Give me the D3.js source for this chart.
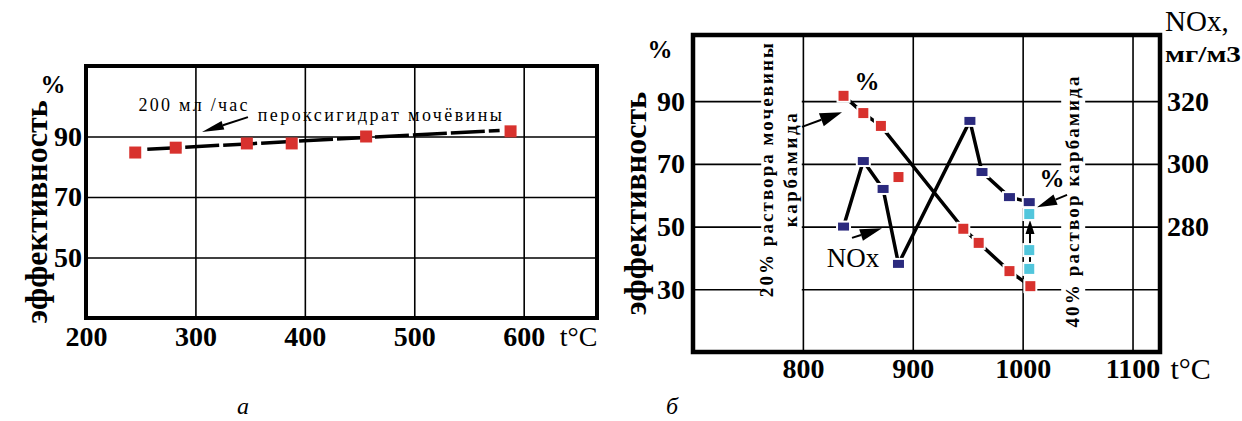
<!DOCTYPE html>
<html>
<head>
<meta charset="utf-8">
<script src="https://cdn.jsdelivr.net/npm/d3@7"></script>
<style>
  body { margin: 0; background: #fff; }
  svg { display: block; font-family: "Liberation Serif", "DejaVu Serif", serif; }
  .tick text { font-family: "Liberation Serif", serif; font-weight: bold; }
</style>
</head>
<body>
<svg width="1242" height="421"></svg>
<script>
// ---- chart a : efficiency vs temperature ----
const tempA = [245, 282, 347, 388, 456, 588]
const effA = [84.7, 86.3, 87.7, 87.7, 90, 91.7]
const trendTempA = [256, 578]
const trendEffA = [85.8, 92]
const xTicksA = [200, 300, 400, 500, 600]
const yTicksA = [50, 70, 90]

// ---- chart b : efficiency and NOx vs temperature ----
const tempRed = [837, 855, 871, 946, 960, 988, 1007]
const effRed = [91.7, 86.2, 82.1, 49.3, 44.8, 35.8, 31]
const tempRedLoose = [887]
const effRedLoose = [65.8]
const tempNox = [837, 855, 873, 887, 952, 963, 988, 1006]
const noxValues = [280, 300.9, 292, 268.1, 313.7, 297.4, 289.4, 287.8]
const tempCyan = [1006, 1006, 1006]
const effCyan = [54, 42.5, 36.5]
const xTicksB = [800, 900, 1000, 1100]
const yTicksB = [30, 50, 70, 90]
const noxTicks = [280, 300, 320]

const RED = "#d8322e"
const NAVY = "#2b2a7e"
const CYAN = "#52c6dc"

const svg = d3.select("svg")

const arrow = (g, x1, y1, x2, y2, len, wid) => {
  const a = Math.atan2(y2 - y1, x2 - x1)
  const bx = x2 - len * Math.cos(a)
  const by = y2 - len * Math.sin(a)
  const nx = -Math.sin(a) * wid / 2
  const ny = Math.cos(a) * wid / 2
  g.append("line")
    .attr("x1", x1).attr("y1", y1).attr("x2", bx).attr("y2", by)
    .attr("stroke", "#000").attr("stroke-width", 2)
  g.append("path")
    .attr("d", `M${x2},${y2}L${bx + nx},${by + ny}L${bx - nx},${by - ny}Z`)
    .attr("fill", "#000")
}

const styleAxis = (axisG, size) => {
  axisG.attr("font-family", null).attr("font-size", null)
  axisG.select(".domain").remove()
  axisG.selectAll(".tick line").attr("stroke", "#000").attr("stroke-width", 1.6)
  axisG.selectAll(".tick text")
    .attr("fill", "#000")
    .style("font-size", size + "px")
}

// ================= chart a =================
{
  const left = 86, top = 66, right = 597, bottom = 318
  const x = d3.scaleLinear().domain([200, 667]).range([left, right])
  const y = d3.scaleLinear().domain([30, 113.3]).range([bottom, top])
  const g = svg.append("g")

  const xAxisG = g.append("g")
    .attr("transform", `translate(0,${bottom})`)
    .call(d3.axisBottom(x).tickValues(xTicksA).tickFormat(d3.format("d")).tickSize(-(bottom - top)).tickPadding(8))
  styleAxis(xAxisG, 28)
  const yAxisG = g.append("g")
    .attr("transform", `translate(${left},0)`)
    .call(d3.axisLeft(y).tickValues(yTicksA).tickFormat(d3.format("d")).tickSize(-(right - left)).tickPadding(4))
  styleAxis(yAxisG, 28)

  g.append("rect")
    .attr("x", left).attr("y", top)
    .attr("width", right - left).attr("height", bottom - top)
    .attr("fill", "none").attr("stroke", "#000").attr("stroke-width", 4)

  // trend line
  g.append("line")
    .attr("x1", x(trendTempA[0])).attr("y1", y(trendEffA[0]))
    .attr("x2", x(trendTempA[1])).attr("y2", y(trendEffA[1]))
    .attr("stroke", "#000").attr("stroke-width", 3.5)
    .attr("stroke-dasharray", "34 4")

  g.selectAll(".pt")
    .data(tempA.map((t, i) => [t, effA[i]]))
    .join("rect")
    .attr("x", (d) => x(d[0]) - 6).attr("y", (d) => y(d[1]) - 6)
    .attr("width", 12).attr("height", 12)
    .attr("fill", RED)

  // annotation
  g.append("text")
    .attr("x", x(248)).attr("y", y(98.3))
    .attr("textLength", 109).attr("lengthAdjust", "spacing")
    .style("font-size", "18px")
    .text("200 мл /час")
  g.append("text")
    .attr("x", x(357)).attr("y", y(95.1))
    .attr("textLength", 244).attr("lengthAdjust", "spacing")
    .style("font-size", "18px")
    .text("пероксигидрат мочёвины")
  arrow(g, x(348), y(96.4), x(306), y(91.5), 22, 9)

  // labels
  g.append("text")
    .attr("x", 53).attr("y", 93).attr("text-anchor", "middle")
    .style("font-size", "25px").style("font-weight", "bold")
    .text("%")
  g.append("text")
    .attr("x", x(600) + 36).attr("y", bottom + 28)
    .style("font-size", "28px")
    .text("t°C")
  g.append("text")
    .attr("transform", `translate(47,${(top + bottom) / 2 + 20}) rotate(-90)`)
    .attr("text-anchor", "middle")
    .style("font-size", "32px").style("font-weight", "bold")
    .text("эффективность")
  g.append("text")
    .attr("x", 243).attr("y", 414).attr("text-anchor", "middle")
    .style("font-size", "24px").style("font-style", "italic")
    .text("а")
}

// ================= chart b =================
{
  const left = 693, top = 35, right = 1160, bottom = 352
  const x = d3.scaleLinear().domain([700, 1125]).range([left, right])
  const y = d3.scaleLinear().domain([10, 111.1]).range([bottom, top])
  const yNox = d3.scaleLinear().domain([240, 341.1]).range([bottom, top])
  const g = svg.append("g")

  const xAxisG = g.append("g")
    .attr("transform", `translate(0,${bottom})`)
    .call(d3.axisBottom(x).tickValues(xTicksB).tickFormat(d3.format("d")).tickSize(-(bottom - top)).tickPadding(6))
  styleAxis(xAxisG, 28)
  const yAxisG = g.append("g")
    .attr("transform", `translate(${left},0)`)
    .call(d3.axisLeft(y).tickValues(yTicksB).tickFormat(d3.format("d")).tickSize(-(right - left)).tickPadding(8))
  styleAxis(yAxisG, 28)
  const yRightG = g.append("g")
    .attr("transform", `translate(${right},0)`)
    .call(d3.axisRight(yNox).tickValues(noxTicks).tickFormat(d3.format("d")).tickSize(0).tickPadding(7))
  styleAxis(yRightG, 28)

  // white backing behind rotated captions (they break the grid)
  g.append("rect")
    .attr("x", x(773) - 12).attr("y", top + 6)
    .attr("width", x(799) - x(773) + 12).attr("height", 258)
    .attr("fill", "#fff")
  g.append("rect")
    .attr("x", x(1046) - 12).attr("y", y(57.8) - 128)
    .attr("width", 24).attr("height", 256)
    .attr("fill", "#fff")

  g.append("rect")
    .attr("x", left).attr("y", top)
    .attr("width", right - left).attr("height", bottom - top)
    .attr("fill", "none").attr("stroke", "#000").attr("stroke-width", 4.5)

  const line = d3.line().x((d) => x(d[0])).y((d) => d[1])
  const redPts = tempRed.map((t, i) => [t, y(effRed[i])])
  const noxPts = tempNox.map((t, i) => [t, yNox(noxValues[i])])
  g.append("path").attr("d", line(redPts))
    .attr("fill", "none").attr("stroke", "#000").attr("stroke-width", 3.5)
  g.append("path").attr("d", line(noxPts))
    .attr("fill", "none").attr("stroke", "#000").attr("stroke-width", 3.5)

  // up arrow between cyan points
  arrow(g, x(1006.7), y(38.7), x(1006.7), y(52.1), 14, 9)

  const squares = (pts, color, w, h) => {
    g.append("g").selectAll("rect")
      .data(pts)
      .join("rect")
      .attr("x", (d) => x(d[0]) - w / 2).attr("y", (d) => d[1] - h / 2)
      .attr("width", w).attr("height", h)
      .attr("fill", color).attr("stroke", "#fff").attr("stroke-width", 2)
  }
  squares(redPts, RED, 12, 12)
  squares(tempRedLoose.map((t, i) => [t, y(effRedLoose[i])]), RED, 12, 12)
  squares(noxPts, NAVY, 13, 10)
  squares(tempCyan.map((t, i) => [t, y(effCyan[i])]), CYAN, 12, 12)

  // annotations
  g.append("text")
    .attr("transform", `translate(${x(773)},${y(68)}) rotate(-90)`)
    .attr("text-anchor", "middle")
    .attr("textLength", 254).attr("lengthAdjust", "spacing")
    .style("font-size", "19px").style("font-weight", "bold")
    .text("20% раствора мочевины")
  g.append("text")
    .attr("transform", `translate(${x(795)},${y(68)}) rotate(-90)`)
    .attr("text-anchor", "middle")
    .attr("textLength", 114).attr("lengthAdjust", "spacing")
    .style("font-size", "19px").style("font-weight", "bold")
    .text("карбамида")
  arrow(g, x(799.2), y(81.8), x(835.6), y(86.5), 22, 14)

  g.append("text")
    .attr("transform", `translate(${x(1051)},${y(57.8)}) rotate(-90)`)
    .attr("text-anchor", "middle")
    .attr("textLength", 251).attr("lengthAdjust", "spacing")
    .style("font-size", "19px").style("font-weight", "bold")
    .text("40% раствор карбамида")
  arrow(g, x(1040.4), y(60.1), x(1013.1), y(56.2), 20, 11)

  g.append("text")
    .attr("x", x(845.6)).attr("y", y(37.1)).attr("text-anchor", "middle")
    .style("font-size", "27px")
    .text("NOx")
  arrow(g, x(844.7), y(46.4), x(872), y(49.5), 22, 12)

  g.append("text")
    .attr("x", x(858.4)).attr("y", y(93.6)).attr("text-anchor", "middle")
    .style("font-size", "25px").style("font-weight", "bold")
    .text("%")
  g.append("text")
    .attr("x", x(1026.7)).attr("y", y(62.6)).attr("text-anchor", "middle")
    .style("font-size", "25px").style("font-weight", "bold")
    .text("%")
  g.append("text")
    .attr("x", 660).attr("y", 58).attr("text-anchor", "middle")
    .style("font-size", "25px").style("font-weight", "bold")
    .text("%")

  g.append("text")
    .attr("transform", `translate(646,${(top + bottom) / 2 + 10}) rotate(-90)`)
    .attr("text-anchor", "middle")
    .style("font-size", "32px").style("font-weight", "bold")
    .text("эффективность")

  g.append("text")
    .attr("x", 1165).attr("y", 31)
    .style("font-size", "29px")
    .text("NOx,")
  g.append("text")
    .attr("x", 1165).attr("y", 62)
    .attr("textLength", 76).attr("lengthAdjust", "spacingAndGlyphs")
    .style("font-size", "24px").style("font-weight", "bold")
    .text("мг/м3")
  g.append("text")
    .attr("x", x(1100) + 38).attr("y", bottom + 27)
    .style("font-size", "30px")
    .text("t°C")
  g.append("text")
    .attr("x", 672).attr("y", 414).attr("text-anchor", "middle")
    .style("font-size", "24px").style("font-style", "italic")
    .text("б")
}
</script>
</body>
</html>
